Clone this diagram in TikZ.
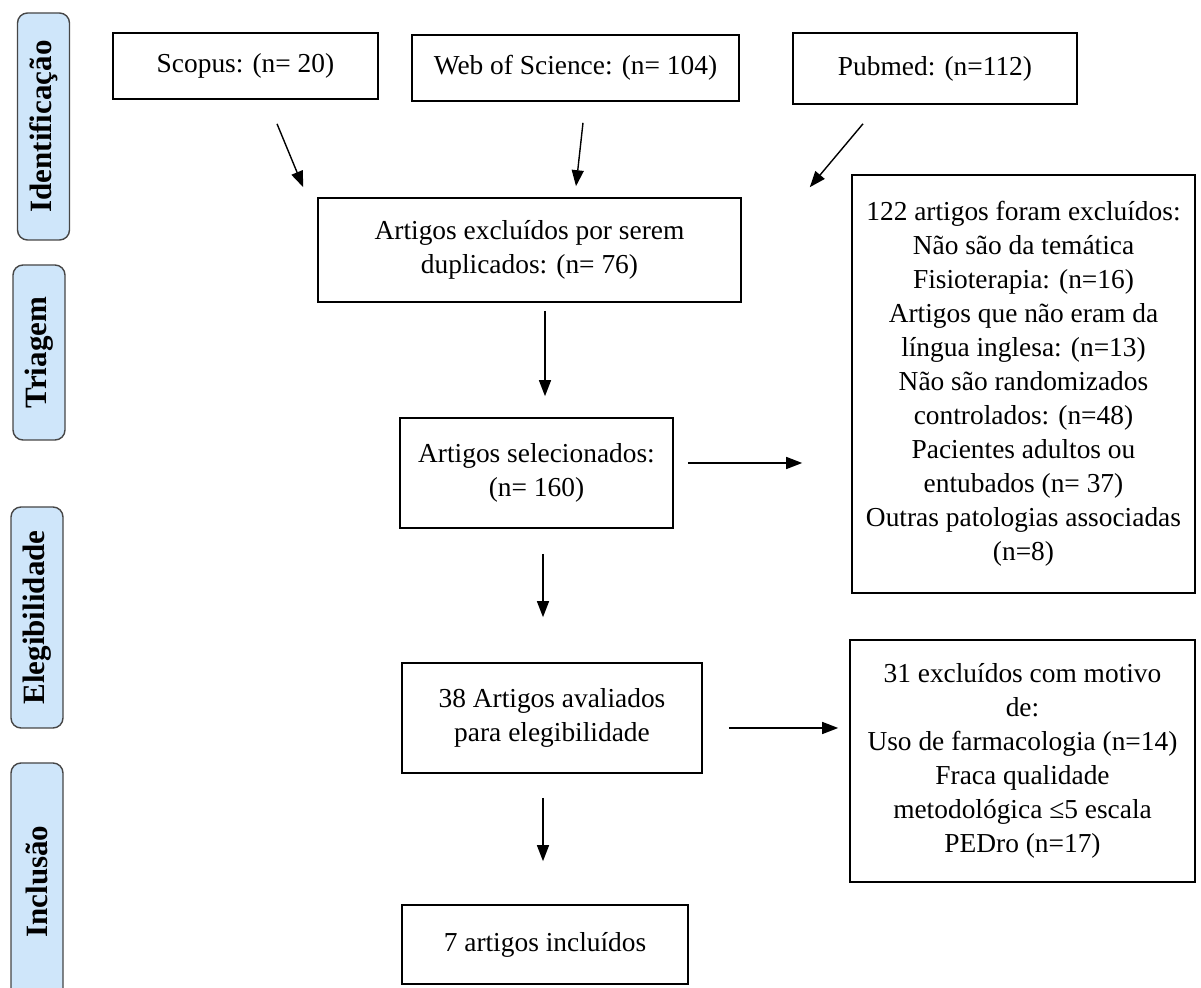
\documentclass[tikz,border=0pt]{standalone}
\usepackage{fontspec}
\setmainfont{Liberation Serif}
\usetikzlibrary{arrows.meta}
\definecolor{phasefill}{RGB}{207,230,250}
\definecolor{phaseline}{RGB}{70,70,70}
\begin{document}
\begin{tikzpicture}[x=0.5pt,y=-0.5pt,
    box/.style={draw, line width=0.8pt, align=center, inner sep=2pt,
      font=\fontsize{13.7}{17}\selectfont},
    phase/.style={draw=phaseline, fill=phasefill, rounded corners=5pt,
      line width=0.7pt, rotate=90, minimum height=26pt,
      font=\fontsize{15.5}{18}\selectfont\bfseries},
    arr/.style={-{Triangle[length=8pt,width=6pt]}, line width=0.7pt}]
  \useasboundingbox (0,0) rectangle (1201,988);
  % phases
  \draw
    (43.5,126.5) node[phase, minimum width=113.5pt] (ident){Identificação}
    (39,352.5) node[phase, minimum width=87.5pt] (triag){Triagem}
    (37,617.5) node[phase, minimum width=110.5pt] (eleg){Elegibilidade}
    (37,881.5) node[phase, minimum width=118.5pt] (inclu){Inclusão};
  % boxes
  \draw
    (245.5,66) node[box, minimum width=132.5pt, minimum height=33pt] (scopus){Scopus: (n= 20)}
    (575.5,68) node[box, minimum width=163.5pt, minimum height=33pt] (wos){Web of Science: (n= 104)}
    (935,68.5) node[box, minimum width=142pt, minimum height=35.5pt] (pubmed){Pubmed: (n=112)}
    (529.5,250) node[box, minimum width=211.5pt, minimum height=52pt] (dup){Artigos excluídos por serem\\duplicados: (n= 76)}
    (536.5,473) node[box, minimum width=136.5pt, minimum height=55pt] (sel){Artigos selecionados:\\(n= 160)}
    (1023.5,384) node[box, minimum width=171.5pt, minimum height=209pt] (excl1){122 artigos foram excluídos:\\Não são da temática\\Fisioterapia: (n=16)\\Artigos que não eram da\\língua inglesa: (n=13)\\Não são randomizados\\controlados: (n=48)\\Pacientes adultos ou\\entubados (n= 37)\\Outras patologias associadas\\(n=8)}
    (552,718) node[box, minimum width=150pt, minimum height=55pt] (elig){38 Artigos avaliados\\para elegibilidade}
    (1022.5,761) node[box, minimum width=172.5pt, minimum height=121pt] (excl2){31 excluídos com motivo\\de:\\Uso de farmacologia (n=14)\\Fraca qualidade\\metodológica ≤5 escala\\PEDro (n=17)}
    (545,944.5) node[box, minimum width=143pt, minimum height=39.5pt] (incl){7 artigos incluídos};
  % arrows
  \begin{scope}[arr]
    \draw ([shift={(31.5,24)}]scopus.south) -- ([shift={(-14,-10)}]dup.north west);
    \draw ([shift={(7.5,21)}]wos.south) -- ([shift={(46.5,-11)}]dup.north);
    \draw ([shift={(-72,19)}]pubmed.south) -- ([shift={(68,-10)}]dup.north east);
    \draw ([shift={(15.5,8)}]dup.south) -- ([shift={(8.5,-21)}]sel.north);
    \draw ([shift={(14,-10)}]sel.east) -- ([shift={(-49,79)}]excl1.west);
    \draw ([shift={(6.5,25)}]sel.south) -- ([shift={(-9,-45)}]elig.north);
    \draw ([shift={(26,10)}]elig.east) -- ([shift={(-11,-33)}]excl2.west);
    \draw ([shift={(-9,24)}]elig.south) -- ([shift={(-2,-43)}]incl.north);
  \end{scope}
\end{tikzpicture}
\end{document}
